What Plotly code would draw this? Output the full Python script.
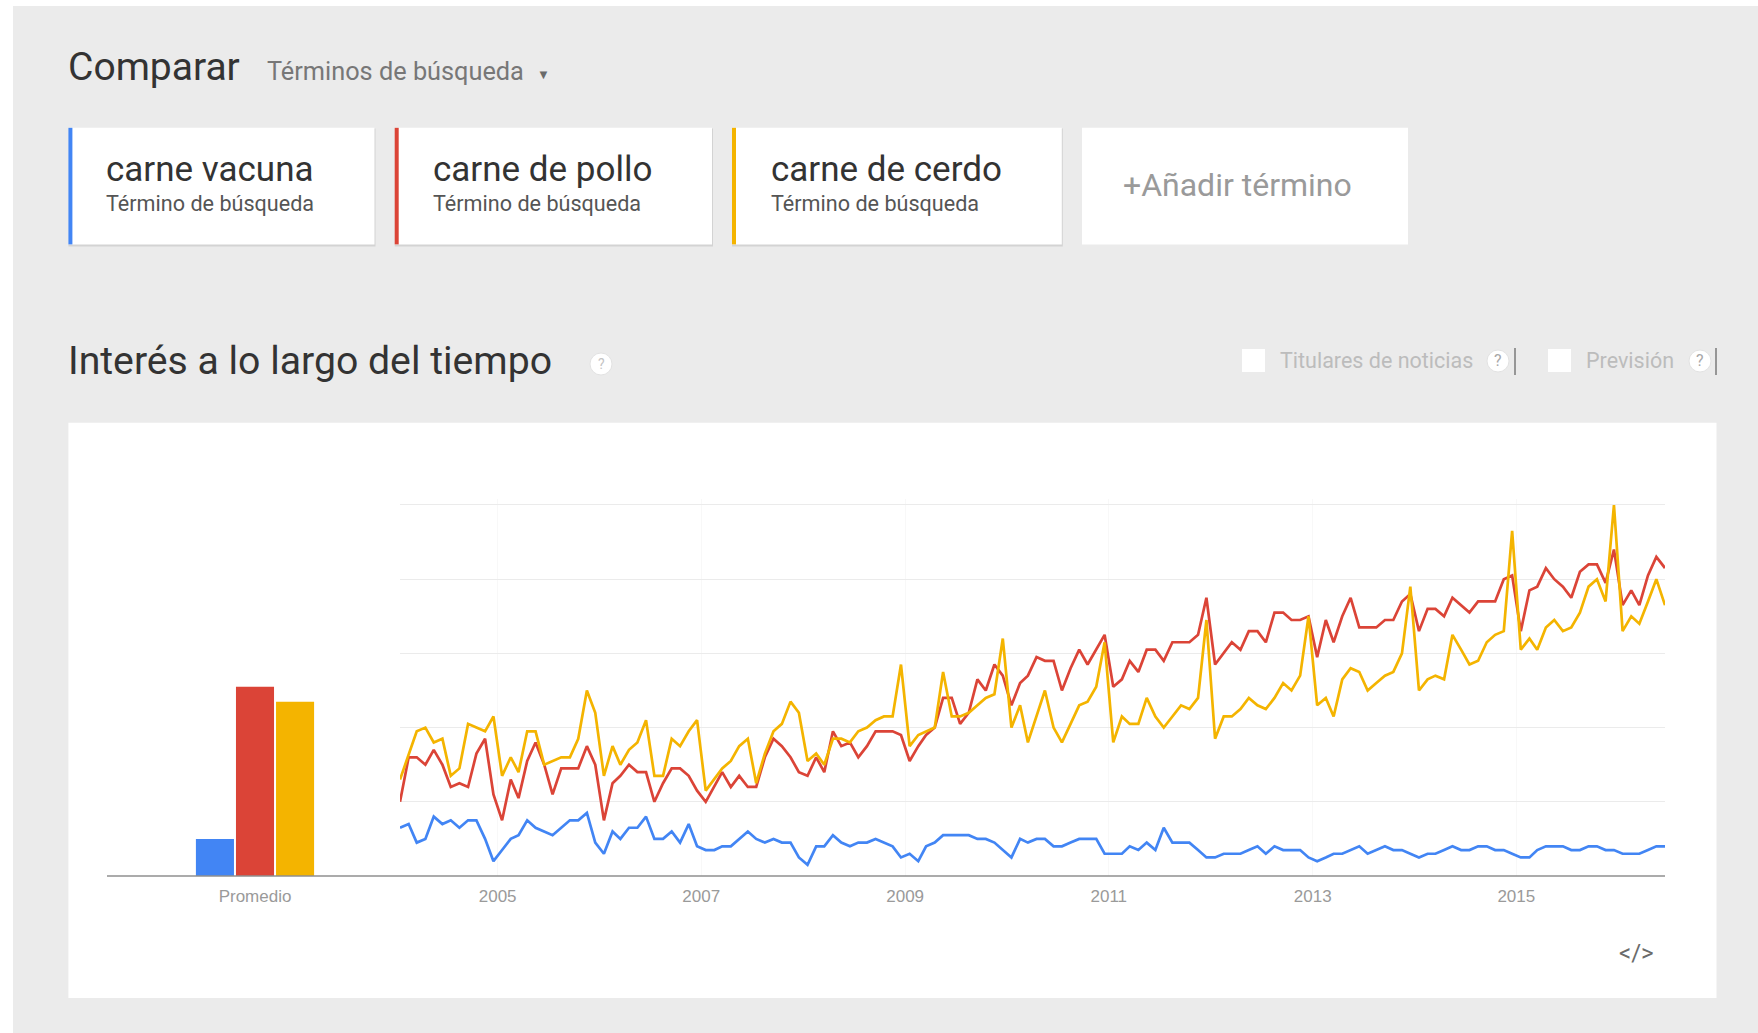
import pandas as pd
import plotly.graph_objects as go

# ---------------- data ----------------
terms = ["carne vacuna", "carne de pollo", "carne de cerdo"]
colors = ["#4285f4", "#db4437", "#f4b400"]
subtitle = "Término de búsqueda"

months = pd.date_range("2004-01-01", periods=150, freq="MS")

vacuna = [13, 14, 9, 10, 16, 14, 15, 13, 15, 15, 10, 4, 7, 10, 11, 15, 13, 12, 11, 13, 15, 15, 17, 9, 6, 12, 10, 13, 13, 16,
          10, 10, 12, 9, 14, 8, 7, 7, 8, 8, 10, 12, 10, 9, 10, 9, 9, 5, 3, 8, 8, 11, 9, 8, 9, 9, 10, 9, 8, 5,
          6, 4, 8, 9, 11, 11, 11, 11, 10, 10, 9, 7, 5, 10, 9, 10, 10, 8, 8, 9, 10, 10, 10, 6, 6, 6, 8, 7, 9, 7,
          13, 9, 9, 9, 7, 5, 5, 6, 6, 6, 7, 8, 6, 8, 7, 7, 7, 5, 4, 5, 6, 6, 7, 8, 6, 7, 8, 7, 7, 6,
          5, 6, 6, 7, 8, 7, 7, 8, 8, 7, 7, 6, 5, 5, 7, 8, 8, 8, 7, 7, 8, 8, 7, 7, 6, 6, 6, 7, 8, 8]

pollo = [20, 32, 32, 30, 34, 30, 24, 25, 24, 33, 37, 22, 15, 26, 21, 31, 36, 30, 22, 29, 29, 29, 35, 30, 15, 25, 27, 30, 28, 28,
         20, 25, 29, 29, 27, 23, 20, 24, 28, 24, 27, 24, 24, 32, 37, 35, 32, 28, 27, 32, 28, 39, 35, 36, 32, 35, 39, 39, 39, 38,
         31, 35, 38, 40, 48, 48, 41, 44, 53, 50, 57, 54, 46, 52, 54, 59, 58, 58, 50, 56, 61, 57, 61, 65, 51, 53, 58, 55, 61, 61,
         58, 63, 63, 63, 65, 75, 57, 60, 63, 61, 66, 66, 63, 71, 71, 69, 69, 70, 59, 69, 63, 70, 75, 67, 67, 67, 69, 69, 74, 76,
         66, 72, 72, 70, 75, 73, 71, 74, 74, 74, 80, 81, 66, 77, 78, 83, 80, 78, 75, 82, 84, 84, 79, 88, 73, 77, 73, 81, 86, 83]

cerdo = [26, 33, 39, 40, 36, 37, 27, 29, 41, 40, 39, 43, 27, 32, 28, 39, 39, 30, 31, 32, 32, 37, 50, 44, 27, 35, 30, 34, 36, 42,
         27, 27, 37, 35, 39, 42, 23, 26, 29, 31, 35, 37, 25, 33, 39, 41, 47, 44, 31, 33, 30, 37, 37, 36, 39, 40, 42, 43, 43, 57,
         35, 38, 39, 40, 55, 43, 43, 44, 46, 48, 49, 64, 40, 46, 36, 43, 50, 40, 36, 41, 46, 47, 51, 63, 36, 43, 41, 41, 48, 43,
         40, 43, 46, 45, 48, 69, 37, 43, 43, 45, 48, 46, 45, 48, 52, 50, 54, 70, 46, 48, 43, 53, 56, 55, 50, 52, 54, 55, 60, 78,
         50, 53, 54, 53, 65, 61, 57, 58, 63, 65, 66, 93, 61, 64, 61, 67, 69, 66, 67, 71, 78, 80, 74, 100, 66, 70, 68, 74, 80, 73]

series = [vacuna, pollo, cerdo]
promedio = [10, 51, 47]
promedio_label = "Promedio"

year_ticks = ["2004-12-16", "2006-12-16", "2008-12-16", "2010-12-16", "2012-12-16", "2014-12-16"]
year_labels = ["2005", "2007", "2009", "2011", "2013", "2015"]

# ---------------- layout helpers ----------------
W, H = 1758, 1033
def X(px):
    return px / W
def Y(py):
    return 1 - py / H

Y0, Y100 = 876.0, 505.0          # pixel rows of value 0 and 100
ppu = (Y0 - Y100) / 100.0
ytop = 101.5
dom_y = [Y(Y0), Y(Y0 - ytop * ppu)]

fig = go.Figure()

for name, vals, col in zip(terms, series, colors):
    fig.add_trace(go.Scatter(x=months, y=vals, mode="lines", name=name,
                             line=dict(color=col, width=2.7), hoverinfo="skip",
                             showlegend=False, xaxis="x", yaxis="y"))

for name, val, col in zip(terms, promedio, colors):
    fig.add_trace(go.Bar(x=[promedio_label], y=[val], name=name, marker=dict(color=col, line=dict(width=0)),
                         showlegend=False, hoverinfo="skip", xaxis="x2", yaxis="y2"))

tickfont = dict(family="Liberation Sans, Arial, sans-serif", size=17, color="#9a9a9a")

shapes = []
# page background
shapes.append(dict(type="rect", xref="paper", yref="paper", x0=X(13), x1=X(1758), y0=Y(1033), y1=Y(6),
                   fillcolor="#ebebeb", line=dict(width=0), layer="below"))
# cards
cards = [(68.4, 374.5), (394.7, 712), (732, 1061.8)]
for (a, b), col in zip(cards, colors):
    shapes.append(dict(type="rect", xref="paper", yref="paper", x0=X(a), x1=X(b + 1), y0=Y(246.5), y1=Y(128.5),
                       fillcolor="rgba(0,0,0,0.10)", line=dict(width=0), layer="below"))
    shapes.append(dict(type="rect", xref="paper", yref="paper", x0=X(a), x1=X(b), y0=Y(244.4), y1=Y(127.8),
                       fillcolor="white", line=dict(width=0), layer="below"))
    shapes.append(dict(type="rect", xref="paper", yref="paper", x0=X(a), x1=X(a + 4), y0=Y(244.4), y1=Y(127.8),
                       fillcolor=col, line=dict(width=0), layer="below"))
shapes.append(dict(type="rect", xref="paper", yref="paper", x0=X(1082), x1=X(1408), y0=Y(244.4), y1=Y(127.8),
                   fillcolor="white", line=dict(width=0), layer="below"))
# chart panel
shapes.append(dict(type="rect", xref="paper", yref="paper", x0=X(68.4), x1=X(1716.5), y0=Y(997.9), y1=Y(422.7),
                   fillcolor="white", line=dict(width=0), layer="below"))
# help circles and checkboxes
for cx, cy in ((601, 364), (1498, 361), (1700, 361)):
    shapes.append(dict(type="circle", xref="paper", yref="paper", x0=X(cx - 11), x1=X(cx + 11),
                       y0=Y(cy + 11), y1=Y(cy - 11),
                       fillcolor="white", line=dict(color="#e2e2e2", width=1), layer="below"))
for bx in (1515, 1716):
    shapes.append(dict(type="line", xref="paper", yref="paper", x0=X(bx), x1=X(bx), y0=Y(375), y1=Y(348),
                       line=dict(color="#7a7a7a", width=1.5)))
for cx0 in (1242, 1548):
    shapes.append(dict(type="rect", xref="paper", yref="paper", x0=X(cx0), x1=X(cx0 + 23), y0=Y(372), y1=Y(349),
                       fillcolor="white", line=dict(width=0), layer="below"))
# baseline
shapes.append(dict(type="line", xref="paper", yref="paper", x0=X(107), x1=X(1665), y0=Y(Y0), y1=Y(Y0),
                   line=dict(color="#8f8f8f", width=1.6), layer="above"))

ui = "Roboto, Arial, sans-serif"
ann = []
def txt(s, x, y, size, color, xanchor="left"):
    ann.append(dict(text=s, x=X(x), y=Y(y), xref="paper", yref="paper", xanchor=xanchor, yanchor="middle",
                    showarrow=False, font=dict(family=ui, size=size, color=color)))

txt("Comparar", 66, 67, 39, "#333333")
txt("Términos de búsqueda", 265, 72, 25.3, "#777777")
txt("▼", 535, 74, 13, "#6a6a6a")
text_x = [104.3, 430.8, 769.3]
for t, tx in zip(terms, text_x):
    txt(t, tx, 169, 35, "#333333")
    txt(subtitle, tx, 204, 21.6, "#555555")
txt("+Añadir término", 1237, 185, 32, "#9a9a9a", xanchor="center")
txt("Interés a lo largo del tiempo", 66, 361, 39.2, "#333333")
txt("?", 601, 364, 14, "#c4c4c4", xanchor="center")
txt("Titulares de noticias", 1278, 361, 21.5, "#bcbcbc")
txt("?", 1498, 361, 16, "#a8a8a8", xanchor="center")
txt("Previsión", 1584, 361, 21.5, "#bcbcbc")
txt("?", 1700, 361, 16, "#a8a8a8", xanchor="center")
txt("&lt;/&gt;", 1636, 953, 24, "#6b6b6b", xanchor="center")

fig.update_layout(
    width=W, height=H, autosize=False,
    margin=dict(l=0, r=0, t=0, b=0, pad=0),
    paper_bgcolor="white", plot_bgcolor="rgba(0,0,0,0)",
    barmode="group", bargap=0.594, bargroupgap=0.05,
    shapes=shapes, annotations=ann,
    xaxis=dict(domain=[X(400), X(1665)], anchor="y", type="date",
               range=["2004-01-01", "2016-06-01"],
               tickmode="array", tickvals=year_ticks, ticktext=year_labels,
               showgrid=True, gridcolor="#f8f8f8", gridwidth=1,
               showline=False, zeroline=False, ticks="", ticklabelstandoff=8,
               tickfont=tickfont, fixedrange=True),
    yaxis=dict(domain=dom_y, anchor="x", range=[0, ytop],
               tickmode="array", tickvals=[20, 40, 60, 80, 100],
               showgrid=True, gridcolor="#ebebeb", gridwidth=1,
               showticklabels=False, zeroline=False, showline=False, ticks="", fixedrange=True),
    xaxis2=dict(domain=[X(107), X(403)], anchor="y2", type="category",
                showgrid=False, showline=False, zeroline=False, ticks="", ticklabelstandoff=8,
                tickfont=tickfont, fixedrange=True),
    yaxis2=dict(domain=dom_y, anchor="x2", range=[0, ytop], visible=False, fixedrange=True),
)

fig.write_html("out.html", config={"displayModeBar": False},
               post_script="document.body.style.margin='0';document.body.style.overflow='hidden';")
